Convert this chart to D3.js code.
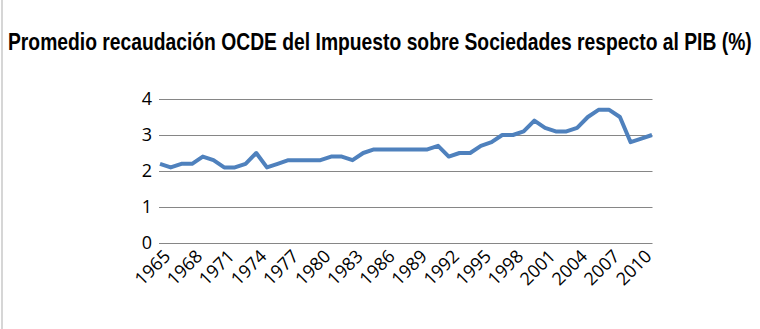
<!DOCTYPE html>
<html><head><meta charset="utf-8">
<script src="https://cdn.jsdelivr.net/npm/d3@7"></script>
<style>body{margin:0;background:#fff}svg{display:block}</style>
</head><body>
<script>
const title = "Promedio recaudación OCDE del Impuesto sobre Sociedades respecto al PIB (%)";
const years = d3.range(1965, 2012);
const values = [2.2,2.1,2.2,2.2,2.4,2.3,2.1,2.1,2.2,2.5,
  2.1,2.2,2.3,2.3,2.3,2.3,2.4,2.4,2.3,2.5,
  2.6,2.6,2.6,2.6,2.6,2.6,2.7,2.4,2.5,2.5,
  2.7,2.8,3.0,3.0,3.1,3.4,3.2,3.1,3.1,3.2,
  3.5,3.7,3.7,3.5,2.8,2.9,3.0];
const yTicks = [0,1,2,3,4];
const xLabels = d3.range(1965, 2011, 3);

const W = 760, H = 329;
const svg = d3.select("body").append("svg").attr("width", W).attr("height", H);
svg.append("line").attr("x1",2).attr("x2",2).attr("y1",0).attr("y2",H)
  .attr("stroke","#c8c8c8").attr("stroke-width",1.5);

const tg = svg.append("g");
const t = tg.append("text").attr("x",0).attr("y",0)
  .attr("font-family","'Liberation Sans', Arial, sans-serif").attr("font-weight","bold")
  .attr("font-size",24).attr("fill","#000").text(title);
// condense horizontally to the width used in the reference (about 8 → 752)
const natural = t.node().getComputedTextLength();
const sx = Math.min(1, 744 / natural);
tg.attr("transform", `translate(8,50) scale(${sx},1)`);

const x = d3.scaleLinear().domain([1965, 2011]).range([160, 652]);
const y = d3.scaleLinear().domain([0, 4]).range([243, 99]);

const g = svg.append("g");
g.selectAll("line.grid").data(yTicks).join("line").attr("class","grid")
  .attr("x1",159).attr("x2",652.5).attr("y1",d=>y(d)+0.5).attr("y2",d=>y(d)+0.5)
  .attr("stroke","#868686").attr("stroke-width",1);

g.selectAll("text.yl").data(yTicks).join("text").attr("class","yl")
  .attr("x",152).attr("y",d=>y(d)).attr("dy","0.36em").attr("text-anchor","end")
  .attr("font-family","'Open Sans', sans-serif").attr("font-size",18).attr("fill","#000")
  .text(d=>d);

g.selectAll("text.xl").data(xLabels).join("text").attr("class","xl")
  .attr("transform",d=>`translate(${x(d)+7},${253}) rotate(-45)`)
  .attr("text-anchor","end")
  .attr("font-family","'Open Sans', sans-serif").attr("font-size",18).attr("fill","#000")
  .attr("dy","0.35em")
  .text(d=>d);

const line = d3.line().x((d,i)=>x(years[i])).y(d=>y(d));
g.append("path").datum(values).attr("d",line).attr("fill","none")
  .attr("stroke","#4f81bd").attr("stroke-width",4).attr("stroke-linejoin","round");
</script>
</body></html>
